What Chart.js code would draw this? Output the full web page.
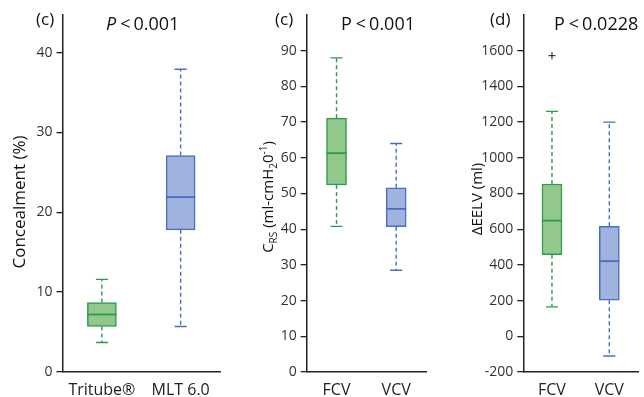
<!DOCTYPE html>
<html>
<head>
<meta charset="utf-8">
<script src="https://cdn.jsdelivr.net/npm/chart.js@4.4.1/dist/chart.umd.min.js"></script>
<style>
  body { margin: 0; background: #fff; }
  #wrap { position: relative; width: 644px; height: 397px; overflow: hidden; }
  #wrap canvas { position: absolute; top: 0; }
</style>
</head>
<body>
<div id="wrap">
  <canvas id="c1" width="222" height="397" style="left:0px"></canvas>
  <canvas id="c2" width="204" height="397" style="left:224px"></canvas>
  <canvas id="c3" width="214" height="397" style="left:430px"></canvas>
</div>
<script>
// panel 1 - concealment
const concLabels = ['Tritube®', 'MLT 6.0'];
const concMin = [3.7, 5.7];
const concQ1 = [5.7, 17.8];
const concMed = [7.2, 21.9];
const concQ3 = [8.7, 27.1];
const concMax = [11.6, 37.9];

// panel 2 - compliance
const crsLabels = ['FCV', 'VCV'];
const crsMin = [40.8, 28.5];
const crsQ1 = [52.4, 40.7];
const crsMed = [61.3, 45.7];
const crsQ3 = [71.1, 51.6];
const crsMax = [88, 64];

// panel 3 - delta EELV
const eelvLabels = ['FCV', 'VCV'];
const eelvMin = [165, -110];
const eelvQ1 = [457, 202];
const eelvMed = [648, 421];
const eelvQ3 = [853, 616];
const eelvMax = [1260, 1200];
const eelvOutliers = [[1572], []];

const FONT = "'Open Sans', 'Noto Sans', sans-serif";
const fills = ['#93c88d', '#a0b3de'];
const edges = ['#2e9a4c', '#4a6bc6'];

function boxPlugin(s) {
  return {
    id: 'boxes' + s.id,
    afterDatasetsDraw(chart) {
      const ctx = chart.ctx, x = chart.scales.x, y = chart.scales.y;
      const py = v => y.getPixelForValue(v);
      s.med.forEach((m, i) => {
        const cx = x.getPixelForValue(i);
        const half = s.barW / 2;
        ctx.save();
        ctx.strokeStyle = edges[i];
        ctx.lineWidth = 1.4;
        ctx.setLineDash([4, 3]);
        ctx.beginPath();
        ctx.moveTo(cx, py(s.q3[i])); ctx.lineTo(cx, py(s.hi[i]));
        ctx.moveTo(cx, py(s.q1[i])); ctx.lineTo(cx, py(s.lo[i]));
        ctx.stroke();
        ctx.setLineDash([]);
        ctx.beginPath();
        ctx.moveTo(cx - 6, py(s.hi[i])); ctx.lineTo(cx + 6, py(s.hi[i]));
        ctx.moveTo(cx - 6, py(s.lo[i])); ctx.lineTo(cx + 6, py(s.lo[i]));
        ctx.stroke();
        ctx.lineWidth = 1.8;
        ctx.beginPath();
        ctx.moveTo(cx - half, py(m)); ctx.lineTo(cx + half, py(m));
        ctx.stroke();
        (s.out ? s.out[i] : []).forEach(v => {
          ctx.strokeStyle = '#111';
          ctx.lineWidth = 1;
          ctx.beginPath();
          ctx.moveTo(cx - 3.5, py(v)); ctx.lineTo(cx + 3.5, py(v));
          ctx.moveTo(cx, py(v) - 3.5); ctx.lineTo(cx, py(v) + 3.5);
          ctx.stroke();
        });
        ctx.restore();
      });
    },
    afterDraw(chart) {
      const ctx = chart.ctx;
      ctx.save();
      ctx.fillStyle = '#111';
      ctx.textBaseline = 'alphabetic';
      ctx.font = '17px ' + FONT;
      ctx.fillText(s.tag, s.tagX, 25);
      // p value
      let px = s.pX;
      const rest = s.pText.slice(1).replace(/ /g, '\u2009');
      ctx.font = (s.italicP ? 'italic ' : '') + '18px ' + FONT;
      ctx.fillText('P', px, 30);
      px += ctx.measureText('P').width + 1;
      ctx.font = '18px ' + FONT;
      ctx.fillText(rest, px, 30);
      // y title with sub/superscripts
      ctx.translate(s.titleX, s.titleY);
      ctx.rotate(-Math.PI / 2);
      ctx.textBaseline = 'middle';
      const parts = s.title;
      const fontFor = p => (p.k ? 10 : s.titleSize) + 'px ' + FONT;
      let total = 0;
      parts.forEach(p => { ctx.font = fontFor(p); total += ctx.measureText(p.t).width; });
      let tx = -total / 2;
      parts.forEach(p => {
        ctx.font = fontFor(p);
        const dy = p.k === 'sub' ? 5 : p.k === 'sup' ? -5 : 0;
        ctx.fillText(p.t, tx, dy);
        tx += ctx.measureText(p.t).width;
      });
      ctx.restore();
    }
  };
}

function makePanel(id, labels, s) {
  return new Chart(document.getElementById(id), {
    type: 'bar',
    data: {
      labels: labels,
      datasets: [{
        data: s.q1.map((v, i) => [v, s.q3[i]]),
        backgroundColor: fills,
        borderColor: edges,
        borderWidth: 1.5,
        borderSkipped: false,
        barThickness: s.barW
      }]
    },
    options: {
      responsive: false,
      animation: false,
      layout: { padding: { top: 15, right: s.padR, left: 0, bottom: 0 } },
      plugins: { legend: { display: false }, tooltip: { enabled: false } },
      scales: {
        x: {
          offset: true,
          grid: { display: false },
          border: { color: '#222', width: 1.5 },
          ticks: { color: '#222', font: { family: FONT, size: 16 }, padding: 1, maxRotation: 0 },
          afterFit: sc => { sc.height = 25; }
        },
        y: {
          min: s.yMin, max: s.yMax,
          ticks: { stepSize: s.step, color: '#333', font: { family: FONT, size: 14 }, padding: 4,
                   callback: v => String(v) },
          afterBuildTicks: sc => { sc.ticks = sc.ticks.filter(t => t.value <= s.lastTick); },
          grid: { drawOnChartArea: false, drawTicks: true, tickLength: 6, color: '#222', lineWidth: 1.3 },
          border: { color: '#222', width: 1.5 },
          afterFit: sc => { sc.width = s.yW; }
        }
      }
    },
    plugins: [boxPlugin(s)]
  });
}

makePanel('c1', concLabels, {
  id: 1, lo: concMin, q1: concQ1, med: concMed, q3: concQ3, hi: concMax,
  barW: 29, yW: 62.5, padR: 2, yMin: 0, yMax: 44.7, step: 10, lastTick: 40,
  tag: '(c)', tagX: 36, pText: 'P < 0.001', pX: 106, italicP: true,
  titleX: 20, titleY: 202, titleSize: 17,
  title: [{ t: 'Concealment (%)' }]
});

makePanel('c2', crsLabels, {
  id: 2, lo: crsMin, q1: crsQ1, med: crsMed, q3: crsQ3, hi: crsMax,
  barW: 20, yW: 82.7, padR: 2, yMin: 0, yMax: 100, step: 10, lastTick: 90,
  tag: '(c)', tagX: 51, pText: 'P < 0.001', pX: 117, italicP: false,
  titleX: 45, titleY: 197, titleSize: 15,
  title: [{ t: 'C' }, { t: 'RS', k: 'sub' }, { t: ' (ml-cmH' }, { t: '2', k: 'sub' },
          { t: '0' }, { t: '-1', k: 'sup' }, { t: ')' }]
});

makePanel('c3', eelvLabels, {
  id: 3, lo: eelvMin, q1: eelvQ1, med: eelvMed, q3: eelvQ3, hi: eelvMax, out: eelvOutliers,
  barW: 20, yW: 93.3, padR: 6, yMin: -200, yMax: 1800, step: 200, lastTick: 1600,
  tag: '(d)', tagX: 60, pText: 'P < 0.0228', pX: 124, italicP: false,
  titleX: 47.5, titleY: 199, titleSize: 15,
  title: [{ t: 'ΔEELV (ml)' }]
});
</script>
</body>
</html>
